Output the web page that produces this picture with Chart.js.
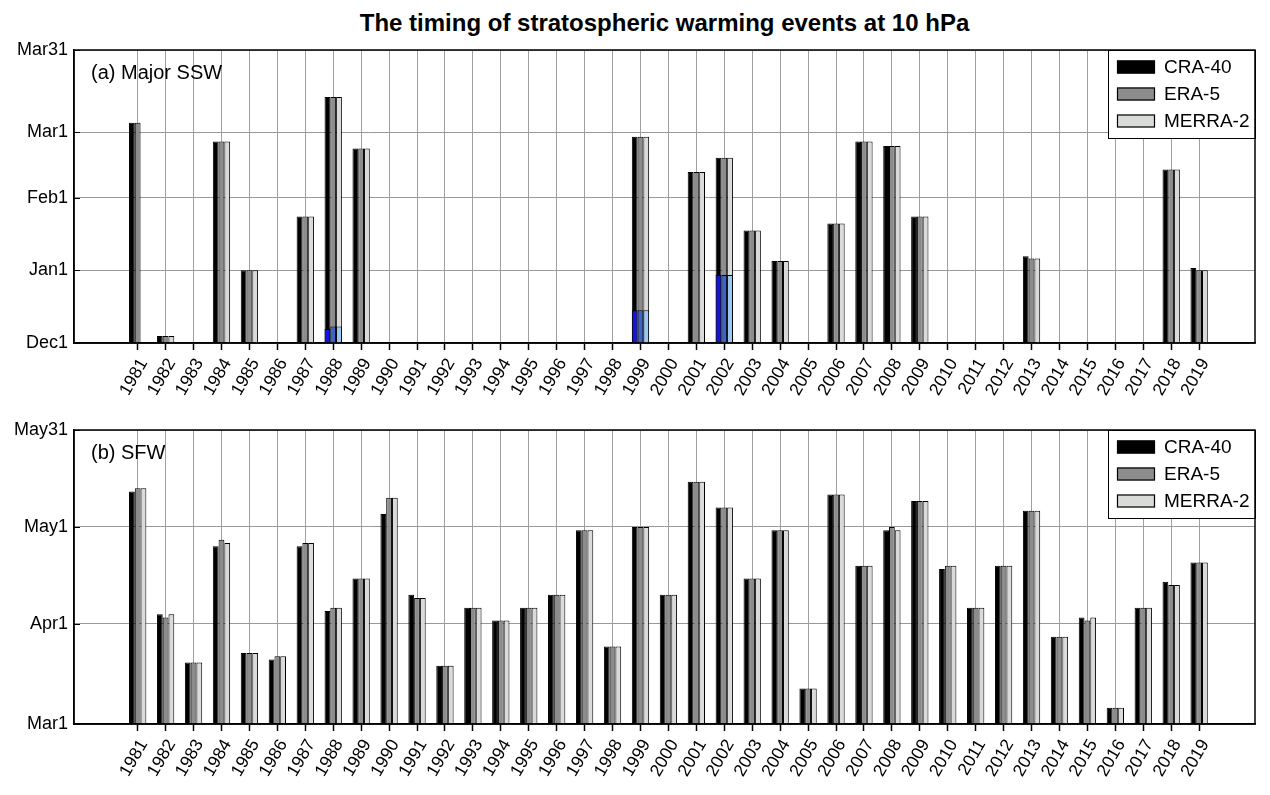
<!DOCTYPE html>
<html>
<head>
<meta charset="utf-8">
<script src="https://cdn.jsdelivr.net/npm/chart.js@4.4.1/dist/chart.umd.min.js"></script>
<style>
  body { margin: 0; background: #fff; }
  #wrap { position: relative; width: 1270px; height: 795px; background: #fff; }
  #title { position: absolute; left: 74px; top: 9px; width: 1181px; text-align: center;
           font: bold 24px "Liberation Sans", Arial, sans-serif; color: #000; }
  canvas { position: absolute; left: 0; }
</style>
</head>
<body>
<div id="wrap">
  <div id="title">The timing of stratospheric warming events at 10 hPa</div>
  <canvas id="sswChart" width="1270" height="380" style="top:40px;width:1270px;height:380px"></canvas>
  <canvas id="sfwChart" width="1270" height="375" style="top:420px;width:1270px;height:375px"></canvas>
</div>
<script>
// --- DATA (days after Dec1 for SSW, days after Mar1 for SFW) ---
const years = [1981, 1982, 1983, 1984, 1985, 1986, 1987, 1988, 1989, 1990,
               1991, 1992, 1993, 1994, 1995, 1996, 1997, 1998, 1999, 2000,
               2001, 2002, 2003, 2004, 2005, 2006, 2007, 2008, 2009, 2010,
               2011, 2012, 2013, 2014, 2015, 2016, 2017, 2018, 2019];

// (a) Major SSW, last event of the winter
const sswCRA40  = [94, 3, null, 86, 31, null, 54, 105, 83, null,
                   null, null, null, null, null, null, null, null, 88, null,
                   73, 79, 48, 35, null, 51, 86, 84, 54, null,
                   null, null, 37, null, null, null, null, 74, 32];
const sswERA5   = [94, 3, null, 86, 31, null, 54, 105, 83, null,
                   null, null, null, null, null, null, null, null, 88, null,
                   73, 79, 48, 35, null, 51, 86, 84, 54, null,
                   null, null, 36, null, null, null, null, 74, 31];
const sswMERRA2 = [null, 3, null, 86, 31, null, 54, 105, 83, null,
                   null, null, null, null, null, null, null, null, 88, null,
                   73, 79, 48, 35, null, 51, 86, 84, 54, null,
                   null, null, 36, null, null, null, null, 74, 31];
// (a) first event in winters with two major SSWs (blue)
const ssw1CRA40  = [null, null, null, null, null, null, null, 6, null, null,
                    null, null, null, null, null, null, null, null, 14, null,
                    null, 29, null, null, null, null, null, null, null, null,
                    null, null, null, null, null, null, null, null, null];
const ssw1ERA5   = [null, null, null, null, null, null, null, 7, null, null,
                    null, null, null, null, null, null, null, null, 14, null,
                    null, 29, null, null, null, null, null, null, null, null,
                    null, null, null, null, null, null, null, null, null];
const ssw1MERRA2 = [null, null, null, null, null, null, null, 7, null, null,
                    null, null, null, null, null, null, null, null, 14, null,
                    null, 29, null, null, null, null, null, null, null, null,
                    null, null, null, null, null, null, null, null, null];

// (b) SFW
const sfwCRA40  = [72, 34, 19, 55, 22, 20, 55, 35, 45, 65,
                   40, 18, 36, 32, 36, 40, 60, 24, 61, 40,
                   75, 67, 45, 60, 11, 71, 49, 60, 69, 48,
                   36, 49, 66, 27, 33, 5, 36, 44, 50];
const sfwERA5   = [73, 33, 19, 57, 22, 21, 56, 36, 45, 70,
                   39, 18, 36, 32, 36, 40, 60, 24, 61, 40,
                   75, 67, 45, 60, 11, 71, 49, 61, 69, 49,
                   36, 49, 66, 27, 32, 5, 36, 43, 50];
const sfwMERRA2 = [73, 34, 19, 56, 22, 21, 56, 36, 45, 70,
                   39, 18, 36, 32, 36, 40, 60, 24, 61, 40,
                   75, 67, 45, 60, 11, 71, 49, 60, 69, 49,
                   36, 49, 66, 27, 33, 5, 36, 43, 50];

const sswTickVals   = [0, 31, 62, 90, 125];
const sswTickLabels = ['Dec1', 'Jan1', 'Feb1', 'Mar1', 'Mar31'];
const sfwTickVals   = [0, 31, 61, 91];
const sfwTickLabels = ['Mar1', 'Apr1', 'May1', 'May31'];

// --- STYLE ---
const FONT = '"Liberation Sans", Arial, sans-serif';
const COL_CRA = '#000000', COL_ERA = '#8c8c8c', COL_MERRA = '#d9dbd8';
const BLUE_CRA = '#1414e0', BLUE_ERA = '#3c64c8', BLUE_MERRA = '#98c8f4';

Chart.defaults.font.family = FONT;
Chart.defaults.color = '#000';

function toPoints(vals) {
    return years.map((yr, i) => ({ x: yr, y: vals[i] }));
}

// order: lower order is painted last (on top)
function barSet(label, vals, color, stack, order) {
    return {
        label: label, data: toPoints(vals), backgroundColor: color, stack: stack, order: order,
        borderColor: '#000', borderWidth: 1, borderSkipped: 'start',
        categoryPercentage: 0.62, barPercentage: 1.0
    };
}

// frame box, inward y ticks, panel label and legend box
const framePlugin = {
    id: 'frame',
    afterDraw(chart, args, opts) {
        const ctx = chart.ctx, a = chart.chartArea, ys = chart.scales.y;
        ctx.save();
        // inward tick marks on the y axis
        ctx.strokeStyle = '#000'; ctx.lineWidth = 1;
        opts.tickVals.forEach(v => {
            const py = Math.round(ys.getPixelForValue(v)) + 0.5;
            ctx.beginPath(); ctx.moveTo(a.left, py); ctx.lineTo(a.left + 6, py); ctx.stroke();
        });
        // panel label
        ctx.fillStyle = '#000';
        ctx.font = '20px ' + FONT;
        ctx.textBaseline = 'middle'; ctx.textAlign = 'left';
        ctx.fillText(opts.panel, a.left + 17, a.top + 23);
        // legend
        const lx = a.right - 147, ly = a.top, lw = 147, lh = 88;
        ctx.fillStyle = '#fff';
        ctx.fillRect(lx, ly, lw, lh);
        ctx.strokeStyle = '#000'; ctx.lineWidth = 1;
        ctx.strokeRect(lx + 0.5, ly + 0.5, lw, lh);
        ctx.font = '19px ' + FONT;
        chart.data.datasets.slice(0, 3).forEach((ds, i) => {
            const cy = ly + 16.5 + i * 27;
            ctx.fillStyle = ds.backgroundColor;
            ctx.fillRect(lx + 9, cy - 6, 38, 13);
            ctx.strokeStyle = '#000'; ctx.lineWidth = 1.2;
            ctx.strokeRect(lx + 9.5, cy - 5.5, 37, 12);
            ctx.fillStyle = '#000';
            ctx.fillText(ds.label, lx + 56, cy + 1);
        });
        // box round the plot
        ctx.strokeStyle = '#000'; ctx.lineWidth = 1.5;
        ctx.strokeRect(a.left, a.top, a.right - a.left, a.bottom - a.top);
        ctx.restore();
    }
};

function makeChart(canvasId, datasets, tickVals, tickLabels, yMax, xHeight, panel) {
    const ctx = document.getElementById(canvasId).getContext('2d');
    return new Chart(ctx, {
        type: 'bar',
        data: { datasets: datasets },
        options: {
            responsive: false,
            animation: false,
            devicePixelRatio: 1,
            layout: { padding: { top: 10, right: 15, left: 0, bottom: 0 } },
            plugins: {
                legend: { display: false },
                tooltip: { enabled: false },
                frame: { tickVals: tickVals, panel: panel }
            },
            scales: {
                x: {
                    type: 'linear', min: 1978.72, max: 2021, offset: false,
                    afterBuildTicks: s => { s.ticks = years.map(v => ({ value: v })); },
                    afterFit: s => { s.height = xHeight; s.paddingLeft = 0; s.paddingRight = 0; },
                    grid: { color: '#a0a0a0', lineWidth: 1, offset: false,
                            tickLength: 7, tickColor: '#000', tickWidth: 1.5 },
                    border: { display: true, color: '#000', width: 1.5 },
                    ticks: { autoSkip: false, minRotation: 60, maxRotation: 60, padding: 5,
                             labelOffset: 6,
                             font: { size: 17.5 }, color: '#000', callback: v => String(v) }
                },
                y: {
                    type: 'linear', min: 0, max: yMax, stacked: false,
                    afterBuildTicks: s => { s.ticks = tickVals.map(v => ({ value: v })); },
                    afterFit: s => { s.width = 74; s.paddingTop = 0; s.paddingBottom = 0; },
                    grid: { color: '#999999', lineWidth: 1, drawTicks: false },
                    border: { display: true, color: '#000', width: 1.5 },
                    ticks: { padding: 6, font: { size: 18 }, color: '#000',
                             callback: v => tickLabels[tickVals.indexOf(v)] }
                }
            }
        },
        plugins: [framePlugin]
    });
}

makeChart('sswChart', [
    barSet('CRA-40', sswCRA40, COL_CRA, 'c', 1),
    barSet('ERA-5', sswERA5, COL_ERA, 'e', 1),
    barSet('MERRA-2', sswMERRA2, COL_MERRA, 'm', 1),
    barSet('CRA-40 first', ssw1CRA40, BLUE_CRA, 'c', 0),
    barSet('ERA-5 first', ssw1ERA5, BLUE_ERA, 'e', 0),
    barSet('MERRA-2 first', ssw1MERRA2, BLUE_MERRA, 'm', 0)
], sswTickVals, sswTickLabels, 125, 77, '(a) Major SSW');

makeChart('sfwChart', [
    barSet('CRA-40', sfwCRA40, COL_CRA, 'c', 1),
    barSet('ERA-5', sfwERA5, COL_ERA, 'e', 1),
    barSet('MERRA-2', sfwMERRA2, COL_MERRA, 'm', 1)
], sfwTickVals, sfwTickLabels, 91, 71, '(b) SFW');
</script>
</body>
</html>
